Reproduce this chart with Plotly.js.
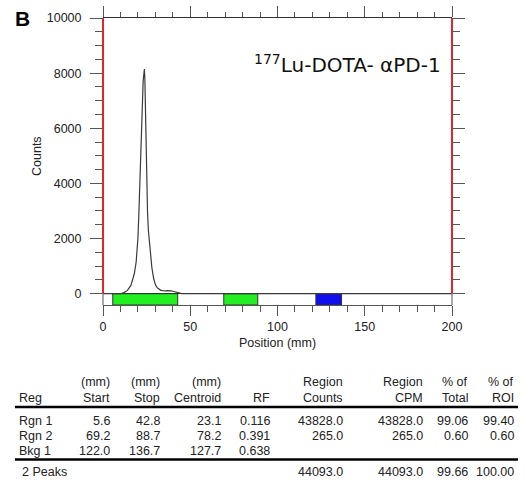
<!DOCTYPE html>
<html>
<head>
<meta charset="utf-8">
<script src="https://cdn.plot.ly/plotly-3.0.1.min.js"></script>
<style>html,body{margin:0;padding:0;background:#fff;}#chart{width:525px;height:480px;}</style>
</head>
<body>
<div id="chart"></div>
<script>
// ---- Data ----
const position = [0, 5, 10, 12, 14, 16, 17, 18, 19, 19.5, 20, 20.5, 21, 21.5, 22, 22.5, 23, 23.7, 24, 24.4, 24.8, 25.1, 25.5, 26, 26.5, 27, 28, 29, 30, 31, 32, 33, 34, 35, 36, 37, 38, 39, 40, 41, 42, 43, 45, 50, 100, 150, 200];
const counts   = [0, 0, 0, 40, 120, 300, 480, 740, 1150, 1500, 2000, 2800, 3900, 4900, 6000, 7000, 7700, 8150, 7800, 6500, 5000, 4000, 3000, 2300, 1900, 1600, 950, 560, 330, 220, 160, 130, 110, 95, 100, 110, 115, 105, 90, 70, 45, 20, 0, 0, 0, 0, 0];

const regNames   = ["Rgn 1", "Rgn 2", "Bkg 1"];
const regStart   = [5.6, 69.2, 122.0];
const regStop    = [42.8, 88.7, 136.7];
const regCentroid= [23.1, 78.2, 127.7];
const regRF      = [0.116, 0.391, 0.638];
const regCounts  = [43828.0, 265.0, null];
const regCPM     = [43828.0, 265.0, null];
const regPctTotal= [99.06, 0.60, null];
const regPctROI  = [99.40, 0.60, null];
const regColors  = ["#22ee22", "#22ee22", "#1010ee"];

const totalLabel = "2 Peaks";
const totalCounts = 44093.0, totalCPM = 44093.0, totalPctTotal = 99.66, totalPctROI = 100.00;

const xTickVals = [0, 50, 100, 150, 200];
const yTickVals = [0, 2000, 4000, 6000, 8000, 10000];

// ---- Layout helpers ----
const L = 103, R = 452, T = 18, B = 305;
const W = 525, H = 480;
const yMax = 10000;
const bandDepth = 410; // counts below zero used by the region band
const px = X => (X - L) / (R - L);
const py = Y => (B - Y) / (B - T);
const cy = c => (c + bandDepth) / (yMax + bandDepth); // counts -> paper y
const FONT = "Liberation Sans, Arial, sans-serif";

const traces = [];
traces.push({
  type: "bar", orientation: "h",
  y: regStart.map(() => -bandDepth / 2),
  x: regStop.map((s, i) => s - regStart[i]),
  base: regStart,
  width: bandDepth,
  marker: {color: regColors, line: {color: "#333", width: 1}},
  hoverinfo: "skip", showlegend: false
});
traces.push({
  type: "scatter", mode: "lines",
  x: position, y: counts,
  line: {color: "#3a3a3a", width: 1.2},
  showlegend: false, hoverinfo: "skip"
});
traces.push({type: "scatter", x: [0], y: [0], xaxis: "x2", yaxis: "y2", mode: "markers", marker: {opacity: 0}, showlegend: false, hoverinfo: "skip"});

const axColor = "#555";
const red = "#e3242b";
const shapes = [
  {type: "line", xref: "paper", yref: "paper", x0: 0, x1: 0, y0: cy(0), y1: 1, line: {color: red, width: 2}},
  {type: "line", xref: "paper", yref: "paper", x0: 1, x1: 1, y0: cy(0), y1: 1, line: {color: red, width: 2}},
  {type: "line", xref: "paper", yref: "paper", x0: 0, x1: 0, y0: 0, y1: cy(0), line: {color: axColor, width: 1}},
  {type: "line", xref: "paper", yref: "paper", x0: 1, x1: 1, y0: 0, y1: cy(0), line: {color: axColor, width: 1}},
  {type: "line", xref: "paper", yref: "paper", x0: px(15), x1: px(518), y0: py(407), y1: py(407), line: {color: "#000", width: 2.5}},
  {type: "line", xref: "paper", yref: "paper", x0: px(15), x1: px(518), y0: py(459.5), y1: py(459.5), line: {color: "#000", width: 2.5}}
];

const annotations = [];
function txt(text, X, Y, anchor, opts) {
  annotations.push(Object.assign({
    text: text, xref: "paper", yref: "paper", x: px(X), y: py(Y),
    xanchor: anchor, yanchor: "middle", showarrow: false,
    font: {family: FONT, size: 12.5, color: "#222"}
  }, opts || {}));
}
txt("B", 13, 19, "left", {font: {family: FONT, size: 21, color: "#000", weight: "bold"}});
txt("<sup><span style=\"font-size:14px\">177</span></sup>Lu-DOTA- αPD-1", 443, 64, "right", {font: {family: "DejaVu Sans, sans-serif", size: 20, color: "#111"}});
txt("Counts", 37, 156, "center", {textangle: -90});

// table
const colRight = [112, 162, 223, 272, 345, 425, 470, 516];
const head1 = ["(mm)", "(mm)", "(mm)", "", "Region", "Region", "% of", "% of"];
const head2 = ["Start", "Stop", "Centroid", "RF", "Counts", "CPM", "Total", "ROI"];
head1.forEach((t, i) => { if (t) txt(t, colRight[i], 382, "right"); });
txt("Reg", 17, 398, "left");
head2.forEach((t, i) => txt(t, colRight[i], 398, "right"));
const rowY = [420.5, 435.5, 450.5];
const f1 = v => v == null ? "" : v.toFixed(1);
const f2 = v => v == null ? "" : v.toFixed(2);
const f3 = v => v == null ? "" : v.toFixed(3);
regNames.forEach((n, r) => {
  txt(n, 17, rowY[r], "left");
  const vals = [f1(regStart[r]), f1(regStop[r]), f1(regCentroid[r]), f3(regRF[r]),
                f1(regCounts[r]), f1(regCPM[r]), f2(regPctTotal[r]), f2(regPctROI[r])];
  vals.forEach((v, i) => { if (v) txt(v, colRight[i], rowY[r], "right"); });
});
const totY = 472;
txt(totalLabel, 20, totY, "left");
txt(f1(totalCounts), colRight[4], totY, "right");
txt(f1(totalCPM), colRight[5], totY, "right");
txt(f2(totalPctTotal), colRight[6], totY, "right");
txt(f2(totalPctROI), colRight[7], totY, "right");

const layout = {
  width: W, height: H,
  margin: {l: L, r: W - R, t: T, b: H - B, pad: 0},
  paper_bgcolor: "#fff", plot_bgcolor: "#fff",
  font: {family: FONT, size: 12.5, color: "#222"},
  showlegend: false,
  xaxis: {
    range: [0, 200], showgrid: false, zeroline: false,
    showline: true, linecolor: axColor, linewidth: 1,
    ticks: "outside", ticklen: 10, tickcolor: axColor, tickwidth: 1,
    tickvals: xTickVals, ticktext: xTickVals.map(String),
    minor: {dtick: 10, tick0: 0, ticks: "outside", ticklen: 6, tickcolor: axColor, showgrid: false},
    tickfont: {family: FONT, size: 12.5, color: "#222"},
    title: {text: "Position (mm)", standoff: 5, font: {family: FONT, size: 12.5, color: "#222"}},
    fixedrange: true
  },
  xaxis2: {
    range: [0, 200], overlaying: "x", side: "top", anchor: "y",
    showgrid: false, zeroline: false, showline: true, linecolor: "#333",
    ticks: "outside", ticklen: 11, tickcolor: axColor, dtick: 50, tick0: 0,
    minor: {dtick: 10, tick0: 0, ticks: "outside", ticklen: 5, tickcolor: axColor, showgrid: false},
    showticklabels: false
  },
  yaxis: {
    range: [-bandDepth, yMax], showgrid: false,
    zeroline: true, zerolinecolor: "#111", zerolinewidth: 1.5,
    showline: false,
    ticks: "outside", ticklen: 12, tickcolor: axColor, tickwidth: 1,
    tickvals: yTickVals, ticktext: yTickVals.map(String),
    ticklabelstandoff: 6,
    minor: {dtick: 500, tick0: 0, ticks: "outside", ticklen: 7, tickcolor: axColor, showgrid: false},
    tickfont: {family: FONT, size: 12.5, color: "#222"},
    fixedrange: true
  },
  yaxis2: {
    range: [-bandDepth, yMax], overlaying: "y", side: "right", anchor: "x",
    showgrid: false, zeroline: false, showline: false,
    ticks: "outside", ticklen: 12, tickcolor: axColor,
    tickvals: yTickVals,
    minor: {dtick: 500, tick0: 0, ticks: "outside", ticklen: 7, tickcolor: axColor, showgrid: false},
    showticklabels: false
  },
  shapes: shapes,
  annotations: annotations
};

Plotly.newPlot("chart", traces, layout, {staticPlot: true, displayModeBar: false});
</script>
</body>
</html>
